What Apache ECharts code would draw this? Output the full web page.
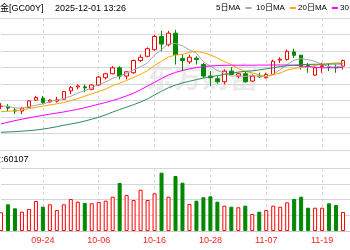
<!DOCTYPE html>
<html><head><meta charset="utf-8">
<script src="https://cdn.jsdelivr.net/npm/echarts@6/dist/echarts.min.js"></script>
<style>html,body{margin:0;padding:0;background:#fff}#c{width:350px;height:250px}</style>
</head><body><div id="c"></div>
<script>
const dates = ['09-16','09-17','09-18','09-19','09-22','09-23','09-24','09-25','09-26','09-29','09-30','10-01','10-02','10-03','10-06','10-07','10-08','10-09','10-10','10-13','10-14','10-15','10-16','10-17','10-20','10-21','10-22','10-23','10-24','10-27','10-28','10-29','10-30','10-31','11-03','11-04','11-05','11-06','11-07','11-10','11-11','11-12','11-13','11-14','11-17','11-18','11-19','11-20','11-21','11-24','11-25'];
const tickDates = ['09-24','10-06','10-16','10-28','11-07','11-19'];
const opens  = [3695,3696,3663,3654,3687,3753,3771,3738,3744,3762,3837,3873,3874,3852,3891,3957,3993,4047,3972,4002,4113,4152,4212,4332,4257,4362,4131,4101,4134,4077,3972,3948,3921,4017,3972,3993,3927,3972,3957,3987,4117,4122,4191,4161,4068,3981,4059,4056,4053,4062];
const closes = [3699,3681,3654,3681,3747,3777,3732,3753,3756,3831,3867,3882,3865,3891,3963,3993,4047,3972,4011,4113,4143,4221,4332,4263,4362,4167,4113,4143,4122,3972,3957,3921,4017,3987,3993,3921,3972,3965,3987,4107,4126,4197,4161,4062,4059,4047,4066,4050,4047,4113];
const lows   = [3672,3654,3627,3627,3685,3750,3717,3726,3732,3760,3807,3852,3825,3843,3882,3942,3987,3942,3942,3993,4101,4143,4203,4197,4242,4077,4017,4083,4077,3957,3882,3903,3897,3981,3951,3912,3921,3957,3951,3981,4092,4113,4137,4032,4002,3972,4002,4017,4002,4032];
const highs  = [3726,3717,3681,3690,3753,3792,3792,3762,3783,3837,3882,3897,3897,3897,3972,4002,4062,4062,4017,4122,4167,4233,4347,4383,4383,4392,4167,4167,4152,4092,4017,3972,4032,4053,4002,4017,3987,4002,4002,4122,4143,4212,4221,4167,4092,4062,4092,4083,4077,4122];
const ma5  = [3700,3695,3683,3679,3692,3708,3718,3738,3753,3770,3788,3818,3840,3867,3894,3919,3952,3973,3997,4027,4057,4092,4164,4214,4264,4269,4247,4210,4181,4103,4061,4023,3998,3971,3975,3968,3978,3968,3968,3990,4031,4076,4116,4131,4121,4105,4079,4057,4054,4065];
const ma10 = [3648,3652,3656,3664,3676,3688,3699,3710,3720,3731,3748,3768,3789,3810,3832,3853,3885,3907,3932,3960,3988,4022,4069,4106,4146,4163,4170,4187,4198,4184,4165,4135,4104,4076,4039,4015,4001,3983,3969,3983,4000,4027,4042,4049,4056,4068,4078,4086,4092,4093];
const ma20 = [3537,3552,3567,3580,3592,3604,3615,3626,3636,3646,3658,3670,3684,3700,3716,3732,3750,3770,3792,3816,3848,3882,3915,3950,3982,4005,4023,4038,4050,4058,4064,4068,4070,4071,4071,4071,4071,4072,4072,4073,4073,4073,4070,4064,4058,4052,4047,4047,4048,4050];
const ma30 = [3461,3464,3467,3471,3476,3481,3490,3500,3512,3525,3536,3548,3563,3580,3598,3620,3645,3668,3690,3712,3737,3765,3800,3835,3866,3890,3910,3925,3940,3954,3965,3976,3987,3997,4008,4015,4020,4028,4038,4048,4058,4066,4072,4076,4078,4079,4080,4081,4082,4083];
const volumes = [118700,169500,144100,122500,139700,190500,154300,169500,133300,169500,203200,186000,177800,175900,184100,192400,217800,304800,228600,196800,262200,196800,239400,370100,217800,349200,306700,171400,192400,214000,220300,186000,160600,154300,150500,160600,107900,122500,133300,160600,154300,182200,203200,217800,147900,147900,147900,175900,165100,120600];
const maNames = ['5日MA','10日MA','20日MA','30日MA'];
const maColors = ['#a8a8a8','#ffa500','#ff00ff','#2e8b57'];
const titleMain = '黄金[GC00Y]';
const titleTime = '2025-12-01 13:26';
const volLabel = '成交量:60107';
const watermark = '东方财富';

const UP = '#ff0000', DOWN = '#008800';
const FONT = '"Liberation Sans","Noto Sans CJK SC",sans-serif';
const isTick = (i, v) => tickDates.indexOf(v) >= 0;
const legendLeft = [216, 256, 298, 340];

const kData = opens.map((o, i) => [o, closes[i], lows[i], highs[i]]);
const volData = volumes.map((v, i) => ({
  value: v,
  itemStyle: closes[i] >= opens[i]
    ? {color: '#fff', borderColor: UP, borderWidth: 1}
    : {color: DOWN, borderColor: DOWN, borderWidth: 1}
}));

const vSplit = {show: true, interval: isTick, lineStyle: {color: '#d6d6d6', type: [3, 3], width: 1}};
const hSplit = {show: true, lineStyle: {color: '#d6d6d6', width: 1}};

const chart = echarts.init(document.getElementById('c'));
chart.setOption({
  animation: false,
  backgroundColor: '#fff',
  legend: maNames.map((n, i) => ({
    data: [n], left: legendLeft[i], top: 4, width: 200, align: 'right', icon: 'rect',
    itemWidth: 6, itemHeight: 2, selectedMode: false, padding: 0,
    textStyle: {fontSize: 8, color: '#000', fontFamily: FONT}
  })),
  grid: [
    {left: 1, right: -1, top: 18, height: 132},
    {left: 1, right: -1, top: 168, height: 63}
  ],
  xAxis: [
    {type: 'category', gridIndex: 0, data: dates, boundaryGap: false,
     axisLine: {show: false}, axisTick: {show: false}, axisLabel: {show: false}, splitLine: vSplit},
    {type: 'category', gridIndex: 1, data: dates, boundaryGap: false,
     axisLine: {show: true, lineStyle: {color: '#c8c8c8'}}, axisTick: {show: false},
     axisLabel: {interval: isTick, color: '#ff2222', fontSize: 9, fontFamily: FONT, margin: 5},
     splitLine: vSplit}
  ],
  yAxis: [
    {type: 'value', gridIndex: 0, min: 3300, max: 4500, interval: 150,
     axisLine: {show: false}, axisTick: {show: false}, axisLabel: {show: false}, splitLine: hSplit},
    {type: 'value', gridIndex: 1, min: 0, max: 400000, interval: 100000,
     axisLine: {show: false}, axisTick: {show: false}, axisLabel: {show: false}, splitLine: hSplit}
  ],
  graphic: [
    {type: 'line', shape: {x1: 0, y1: 150.5, x2: 350, y2: 150.5}, style: {stroke: '#d6d6d6'}},
    {type: 'line', shape: {x1: 0, y1: 18.5, x2: 350, y2: 18.5}, style: {stroke: '#d6d6d6'}},
    {type: 'text', x: 146, y: 63, z: 0, style: {text: watermark, font: 'bold 28px "Noto Sans CJK SC"', fill: '#ebebeb'}},
    {type: 'text', x: -9, y: 4, style: {text: titleMain, font: '9px ' + FONT, fill: '#000'}},
    {type: 'text', x: 55, y: 4, style: {text: titleTime, font: '9px ' + FONT, fill: '#000'}},
    {type: 'text', x: -26, y: 155, style: {text: volLabel, font: '9px ' + FONT, fill: '#000'}}
  ],
  series: [
    {type: 'candlestick', name: 'K', xAxisIndex: 0, yAxisIndex: 0, data: kData, barWidth: 4, clip: false,
     itemStyle: {color: '#fff', color0: DOWN, borderColor: UP, borderColor0: DOWN, borderWidth: 1}},
    ...[ma5, ma10, ma20, ma30].map((d, i) => ({
      type: 'line', name: maNames[i], data: d, symbol: 'none',
      lineStyle: {width: 1, color: maColors[i]}, itemStyle: {color: maColors[i]}
    })),
    {type: 'bar', name: 'VOL', xAxisIndex: 1, yAxisIndex: 1, data: volData, barWidth: 4, clip: false}
  ]
});
</script></body></html>
